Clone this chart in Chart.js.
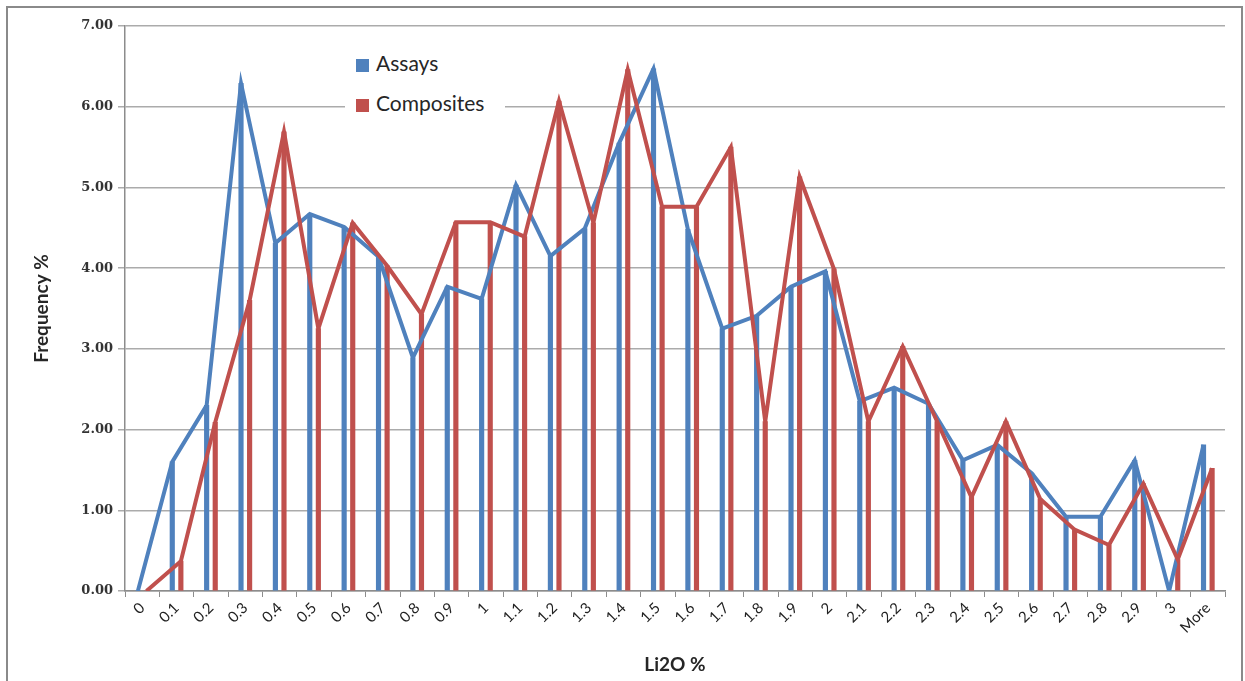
<!DOCTYPE html>
<html>
<head>
<meta charset="utf-8">
<script src="https://cdn.jsdelivr.net/npm/chart.js@4/dist/chart.umd.min.js"></script>
<style>
  html, body { margin: 0; padding: 0; background: #fff; }
  #wrap { position: relative; width: 1245px; height: 681px; overflow: hidden; }
  #frame { position: absolute; left: 6px; top: 6px; width: 1237px; height: 690px;
           border: 2px solid #8a8a8a; box-sizing: border-box; pointer-events: none; }
  #legend { position: absolute; left: 345px; top: 40px; width: 160px; height: 82px;
            background: #fff; font-family: Lato, sans-serif; font-size: 21px; color: #262626; }
  #legend .item { position: absolute; left: 11px; height: 24px; line-height: 24px; white-space: nowrap; }
  #legend .box { display: inline-block; width: 13px; height: 13px; margin-right: 7px; vertical-align: -1px; }
</style>
</head>
<body>
<div id="wrap">
  <canvas id="histChart" width="1245" height="681"></canvas>
  <div id="legend"></div>
  <div id="frame"></div>
</div>
<script>
/* global Chart */

// Li2O % bins and frequency % for each series
var categories = ["0", "0.1", "0.2", "0.3", "0.4", "0.5", "0.6", "0.7", "0.8", "0.9", "1",
  "1.1", "1.2", "1.3", "1.4", "1.5", "1.6", "1.7", "1.8", "1.9", "2",
  "2.1", "2.2", "2.3", "2.4", "2.5", "2.6", "2.7", "2.8", "2.9", "3", "More"];
var assays = [0, 1.60, 2.30, 6.29, 4.31, 4.67, 4.51, 4.14, 2.89, 3.77, 3.62,
  5.03, 4.15, 4.49, 5.55, 6.47, 4.48, 3.25, 3.41, 3.77, 3.96,
  2.35, 2.52, 2.32, 1.62, 1.81, 1.46, 0.92, 0.92, 1.62, 0, 1.81];
var composites = [0, 0.37, 2.09, 3.60, 5.69, 3.25, 4.56, 4.03, 3.43, 4.57, 4.57,
  4.39, 6.07, 4.56, 6.46, 4.76, 4.76, 5.50, 2.10, 5.13, 3.99,
  2.10, 3.03, 2.10, 1.16, 2.10, 1.14, 0.76, 0.57, 1.33, 0.39, 1.52];
var seriesNames = ["Assays", "Composites"];
var seriesColors = ["#4F81BD", "#C0504D"];
var yMax = 7;

// bars sit a little left / right of the bin centre, lines go through the bar tops
var barShift = 0.125;

function shifted(values, shift) {
  return values.map(function (v, i) {
    return { x: i + shift, y: v };
  });
}

var legend = document.getElementById("legend");
seriesNames.forEach(function (name, i) {
  var item = document.createElement("div");
  item.className = "item";
  item.style.top = (11 + i * 40) + "px";
  item.innerHTML = '<span class="box" style="background:' + seriesColors[i] + '"></span>' + name;
  legend.appendChild(item);
});

var ctx = document.getElementById("histChart").getContext("2d");
var histChart = new Chart(ctx, {
  type: "bar",
  data: {
    labels: categories,
    datasets: [
      {
        type: "line",
        label: seriesNames[1],
        data: shifted(composites, barShift),
        xAxisID: "xl",
        borderColor: seriesColors[1],
        borderWidth: 4,
        pointRadius: 0,
        tension: 0,
        order: 0,
      },
      {
        type: "line",
        label: seriesNames[0],
        data: shifted(assays, -barShift),
        xAxisID: "xl",
        borderColor: seriesColors[0],
        borderWidth: 4,
        pointRadius: 0,
        tension: 0,
        order: 1,
      },
      {
        label: seriesNames[0],
        data: shifted(assays, -barShift),
        xAxisID: "xl",
        grouped: false,
        barThickness: 4.5,
        backgroundColor: seriesColors[0],
        order: 2,
      },
      {
        label: seriesNames[1],
        data: shifted(composites, barShift),
        xAxisID: "xl",
        grouped: false,
        barThickness: 4.5,
        backgroundColor: seriesColors[1],
        order: 2,
      },
    ],
  },
  options: {
    responsive: false,
    animation: false,
    devicePixelRatio: 1,
    layout: {
      padding: { top: 26, right: 20, bottom: 0, left: 0 },
    },
    plugins: {
      legend: { display: false },
      tooltip: { enabled: false },
    },
    scales: {
      x: {
        type: "category",
        offset: true,
        afterFit: function (scale) {
          scale.height = 90;
        },
        grid: {
          offset: true,
          drawOnChartArea: false,
          drawTicks: true,
          tickLength: 6,
          color: "#8c8c8c",
        },
        border: { color: "#8c8c8c", width: 1.5 },
        ticks: {
          maxRotation: 45,
          minRotation: 45,
          autoSkip: false,
          padding: 2,
          color: "#222",
          font: { family: "Lato", size: 15 },
        },
        title: {
          display: true,
          text: "Li2O %",
          color: "#262626",
          padding: 5,
          font: { family: "Lato", size: 19, weight: "bold" },
        },
      },
      xl: {
        type: "linear",
        display: false,
        offset: false,
        grid: { offset: false },
        min: -0.5,
        max: categories.length - 0.5,
      },
      y: {
        min: 0,
        max: yMax,
        afterFit: function (scale) {
          scale.width = 125;
        },
        grid: {
          color: "#ababab",
          lineWidth: 1.5,
          drawTicks: true,
          tickLength: 7,
        },
        border: { color: "#8c8c8c", width: 1.5 },
        ticks: {
          stepSize: 1,
          padding: 5,
          color: "#333",
          font: { family: "DejaVu Serif", size: 13, weight: "bold" },
          callback: function (v) {
            return Number(v).toFixed(2);
          },
        },
        title: {
          display: true,
          text: "Frequency %",
          color: "#262626",
          padding: 30,
          font: { family: "Lato", size: 19, weight: "bold" },
        },
      },
    },
  },
});
</script>
</body>
</html>
